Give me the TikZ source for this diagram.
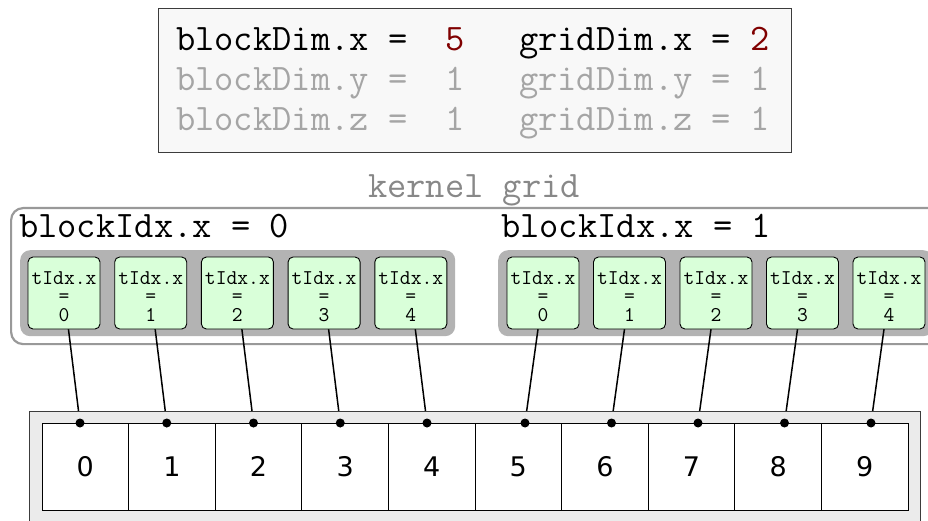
\documentclass[tikz,border=0pt]{standalone}
\usepackage{fontspec}
\setsansfont{DejaVu Sans}
\usetikzlibrary{calc}
\pgfdeclarelayer{back}
\pgfdeclarelayer{wires}
\pgfsetlayers{back,wires,main}
\definecolor{panelfill}{RGB}{248,248,248}
\definecolor{panelline}{RGB}{60,60,60}
\definecolor{dimtext}{RGB}{165,165,165}
\definecolor{valred}{RGB}{128,0,0}
\definecolor{gridtext}{RGB}{136,136,136}
\definecolor{gridline}{RGB}{153,153,153}
\definecolor{blockfill}{RGB}{179,179,179}
\definecolor{threadfill}{RGB}{217,255,217}
\definecolor{arrayfill}{RGB}{235,235,235}
\begin{document}
\begin{tikzpicture}[x=1pt,y=-1pt,
  code/.style={font=\ttfamily\fontsize{37.4}{40}\selectfont, inner sep=0pt, anchor=base west},
  panel/.style={draw=panelline, fill=panelfill, line width=1pt, inner sep=0pt, anchor=north west},
  kernelbox/.style={draw=gridline, line width=2.2pt, fill=white, rounded corners=12pt, inner sep=0pt, anchor=north west},
  blockbg/.style={fill=blockfill, rounded corners=10pt, inner sep=0pt, anchor=north west, minimum width=435pt, minimum height=86pt},
  thread/.style={draw=black, line width=0.9pt, fill=threadfill, rounded corners=5pt,
    minimum width=72pt, minimum height=72pt, inner sep=0pt},
  threadtext/.style={inner sep=0pt, align=center, font=\ttfamily\fontsize{21}{18.5}\selectfont},
  arraybox/.style={draw=panelline, fill=arrayfill, line width=1.2pt, inner sep=0pt, anchor=north west},
  cell/.style={draw=black, line width=0.9pt, fill=white, minimum width=86.6pt, minimum height=87pt,
    inner sep=0pt, font=\sffamily\fontsize{27}{32}\selectfont},
  wire/.style={line width=1.5pt},
  pin/.style={circle, fill=black, inner sep=0pt, minimum size=9pt}
]
\useasboundingbox (0,0) rectangle (928,521);

% dimension panel
\node[panel, minimum width=633.5pt, minimum height=143.5pt] (panel) at (157.5,8.5) {};
\node[code] (bdx) at (176,51) {blockDim.x =~~\textcolor{valred}{5}};
\node[code, text=dimtext] (bdy) at (176,91) {blockDim.y =~~1};
\node[code, text=dimtext] (bdz) at (176,131) {blockDim.z =~~1};
\node[code] (gdx) at (519,51) {gridDim.x = \textcolor{valred}{2}};
\node[code, text=dimtext] (gdy) at (519,91) {gridDim.y = 1};
\node[code, text=dimtext] (gdz) at (519,131) {gridDim.z = 1};

% kernel grid with its two blocks
\node[code, anchor=base, text=gridtext] (gridlabel) at (474,198) {kernel grid};
\begin{pgfonlayer}{back}
  \node[kernelbox, minimum width=940pt, minimum height=136pt] (kernel) at (10,207) {};
  \node[blockbg] (blk0) at (20,250) {};
  \node[blockbg] (blk1) at (498,250) {};
\end{pgfonlayer}
\node[code] (bix0) at (19,237) {blockIdx.x = 0};
\node[code] (bix1) at (501,237) {blockIdx.x = 1};

\foreach \i in {0,...,4} {
  \node[thread] (t\i) at ({64+86.7*\i},293) {};
  \node[threadtext] (tl\i) at ($(t\i.center)+(0,3.5)$) {tIdx.x\\=\\\i};
}
\foreach \i [evaluate=\i as \k using int(\i+5)] in {0,...,4} {
  \node[thread] (t\k) at ({543+86.5*\i},293) {};
  \node[threadtext] (tl\k) at ($(t\k.center)+(0,3.5)$) {tIdx.x\\=\\\i};
}

% output array
\node[arraybox, minimum width=891pt, minimum height=120pt] (array) at (29,411) {};
\foreach \i in {0,...,9} {
  \node[cell] (c\i) at ({42+86.6*\i+43.3},466.5) {\i};
}

% attachment points on the cells
\foreach \i in {0,...,4} {
  \coordinate (d\i) at ({80+86.75*\i},423);
}
\foreach \i [evaluate=\i as \k using int(\i+5)] in {0,...,4} {
  \coordinate (d\k) at ({525+86.5*\i},423);
}

% thread-to-element wires
\begin{pgfonlayer}{wires}
  \foreach \i in {0,...,9} {
    \draw[wire] (t\i.center) -- (d\i);
  }
\end{pgfonlayer}
\foreach \i in {0,...,9} {
  \node[pin] (p\i) at (d\i) {};
}
\end{tikzpicture}
\end{document}
